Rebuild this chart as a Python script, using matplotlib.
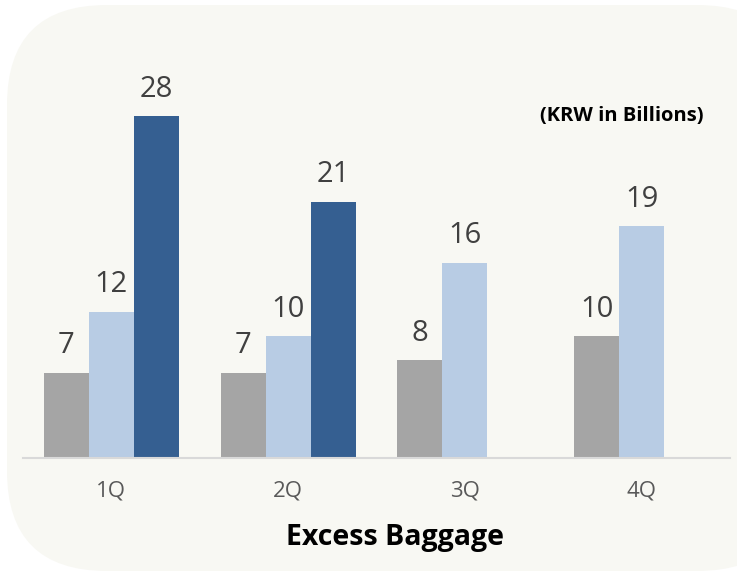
import matplotlib.pyplot as plt
from matplotlib.patches import FancyBboxPatch
import numpy as np

plt.rcParams['font.family'] = ['Open Sans', 'Noto Sans CJK KR', 'DejaVu Sans']

# данные
quarters = ['1Q', '2Q', '3Q', '4Q']
series_a = [7, 7, 8, 10]
series_b = [12, 10, 16, 19]
series_c = [28, 21, np.nan, np.nan]

colors = ['#A5A5A5', '#B8CCE4', '#355F91']

W, H = 737, 571
fig = plt.figure(figsize=(W / 100, H / 100), dpi=100)
fig.patch.set_facecolor('white')

# фон со скруглёнными углами
bg = fig.add_axes([0, 0, 1, 1])
bg.set_xlim(0, W)
bg.set_ylim(H, 0)
bg.axis('off')
box = FancyBboxPatch((7, 5), 790, 566, boxstyle='round,pad=0,rounding_size=100',
                     facecolor='#F8F8F3', edgecolor='none')
bg.add_patch(box)

# основной график
left = 23 / W
width = (730 - 23) / W
bottom = (H - 458) / H
height = 366 / H
ax = fig.add_axes([left, bottom, width, height])
ax.patch.set_alpha(0)
ax.set_xlim(-0.5, 3.5)
ax.set_ylim(0, 30)

x = np.arange(len(quarters))
bw = 0.255
for i, (vals, c) in enumerate(zip([series_a, series_b, series_c], colors)):
    pos = x + (i - 1) * bw
    ax.bar(pos, vals, width=bw, color=c, edgecolor='none')
    for p, v in zip(pos, vals):
        if not np.isnan(v):
            ax.annotate(f'{v:.0f}', (p, v), xytext=(0, 14), textcoords='offset points',
                        ha='center', va='baseline', fontsize=21, color='#404040')

for s in ['top', 'right', 'left']:
    ax.spines[s].set_visible(False)
ax.spines['bottom'].set_color('#D9D9D9')
ax.spines['bottom'].set_linewidth(1.5)
ax.set_yticks([])
ax.set_xticks(x)
ax.set_xticklabels(quarters, fontsize=16, color='#595959')
ax.tick_params(axis='x', length=0, pad=16)

fig.text(395 / W, 1 - 537 / H, 'Excess Baggage', ha='center', va='center',
         fontsize=20.5, fontweight='bold', color='black')
fig.text(622 / W, 1 - 116 / H, '(KRW in Billions)', ha='center', va='center',
         fontsize=14.5, fontweight='bold', color='black')

plt.savefig('out.png', dpi=100)
